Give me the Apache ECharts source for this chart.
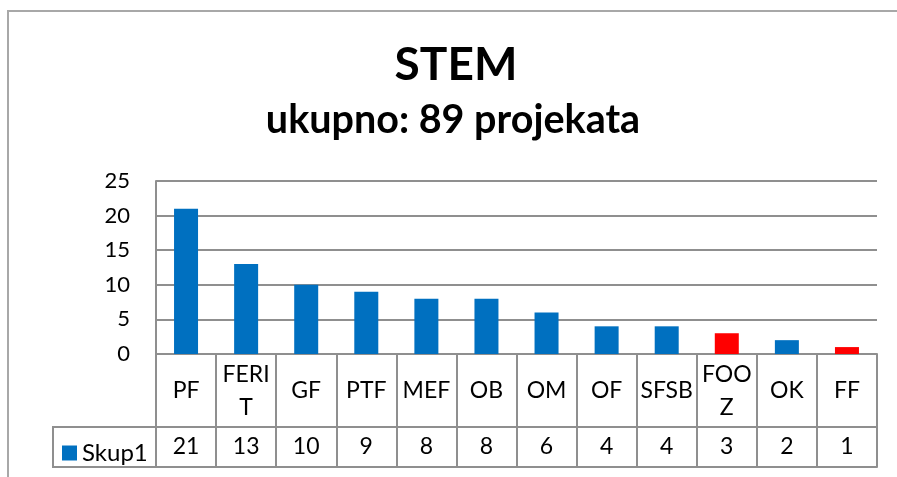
<!DOCTYPE html>
<html>
<head>
<meta charset="utf-8">
<script src="https://cdn.jsdelivr.net/npm/echarts@6/dist/echarts.min.js"></script>
<style>
html, body { margin: 0; padding: 0; background: #fff; }
#chart { width: 897px; height: 477px; }
</style>
</head>
<body>
<div id="chart"></div>
<script>
// podaci
var categories = ['PF', 'FERIT', 'GF', 'PTF', 'MEF', 'OB', 'OM', 'OF', 'SFSB', 'FOOZ', 'OK', 'FF'];
var values = [21, 13, 10, 9, 8, 8, 6, 4, 4, 3, 2, 1];
var redOnes = ['FOOZ', 'FF']; // istaknuti stupci
var seriesName = 'Skup1';
var titleText = 'STEM';
var subText = 'ukupno: 89 projekata';

var FONT = 'Lato';
var LINE = '#8f8f8f';

var barData = values.map(function (v, i) {
	var item = { value: v };
	if (redOnes.indexOf(categories[i]) != -1) {
		item.itemStyle = { color: '#ff0000' };
	}
	return item;
});

var myChart = echarts.init(document.getElementById('chart'));
var option = {
	animation: false,
	textStyle: { fontFamily: FONT },
	title: [
		{
			text: titleText,
			left: 456,
			textAlign: 'center',
			top: 42,
			padding: 0,
			textStyle: { fontSize: 46, fontWeight: 'bold', color: '#000', fontFamily: FONT }
		},
		{
			text: subText,
			left: 453,
			textAlign: 'center',
			top: 100,
			padding: 0,
			textStyle: { fontSize: 39.5, fontWeight: 'bold', color: '#000', fontFamily: FONT }
		}
	],
	legend: {
		left: 57,
		top: 436,
		icon: 'rect',
		itemWidth: 15,
		itemHeight: 15,
		textStyle: { fontSize: 24, color: '#000', fontFamily: FONT }
	},
	grid: { left: 156, right: 20, top: 181, bottom: 123 },
	xAxis: [
		{
			type: 'category',
			data: categories,
			axisLine: { lineStyle: { color: LINE, width: 2 } },
			axisTick: { show: true, interval: 0, length: 113, lineStyle: { color: LINE, width: 2 } },
			axisLabel: {
				interval: 0,
				margin: 37,
				verticalAlign: 'middle',
				fontSize: 23,
				lineHeight: 33,
				color: '#000',
				fontFamily: FONT,
				width: 55,
				overflow: 'breakAll'
			}
		},
		{
			type: 'category',
			data: categories,
			position: 'bottom',
			offset: 73,
			axisLine: { show: true, lineStyle: { color: LINE, width: 2 } },
			axisTick: { show: false },
			axisLabel: {
				interval: 0,
				margin: 20,
				verticalAlign: 'middle',
				fontSize: 23,
				color: '#000',
				fontFamily: FONT,
				formatter: function (v, i) { return values[i]; }
			}
		},
		{
			type: 'category',
			data: categories,
			position: 'bottom',
			offset: 113,
			axisLine: { show: true, lineStyle: { color: LINE, width: 2 } },
			axisTick: { show: false },
			axisLabel: { show: false }
		}
	],
	yAxis: {
		type: 'value',
		min: 0,
		max: 25,
		interval: 5,
		axisLine: { show: true, lineStyle: { color: LINE, width: 2 } },
		axisTick: { show: false },
		splitLine: { lineStyle: { color: LINE, width: 2 } },
		axisLabel: { fontSize: 22, color: '#000', margin: 26, fontFamily: FONT }
	},
	series: [
		{
			name: seriesName,
			type: 'bar',
			barWidth: 24,
			itemStyle: { color: '#0070c0' },
			data: barData
		}
	],
	graphic: [
		{
			type: 'rect',
			z: -1,
			shape: { x: 8, y: 11, width: 1000, height: 1000 },
			style: { fill: 'none', stroke: '#a8a8a8', lineWidth: 2 }
		},
		{ type: 'line', shape: { x1: 53, y1: 427, x2: 156, y2: 427 }, style: { stroke: LINE, lineWidth: 2 } },
		{ type: 'line', shape: { x1: 53, y1: 467, x2: 156, y2: 467 }, style: { stroke: LINE, lineWidth: 2 } },
		{ type: 'line', shape: { x1: 53, y1: 426, x2: 53, y2: 468 }, style: { stroke: LINE, lineWidth: 2 } }
	]
};
myChart.setOption(option);
</script>
</body>
</html>
